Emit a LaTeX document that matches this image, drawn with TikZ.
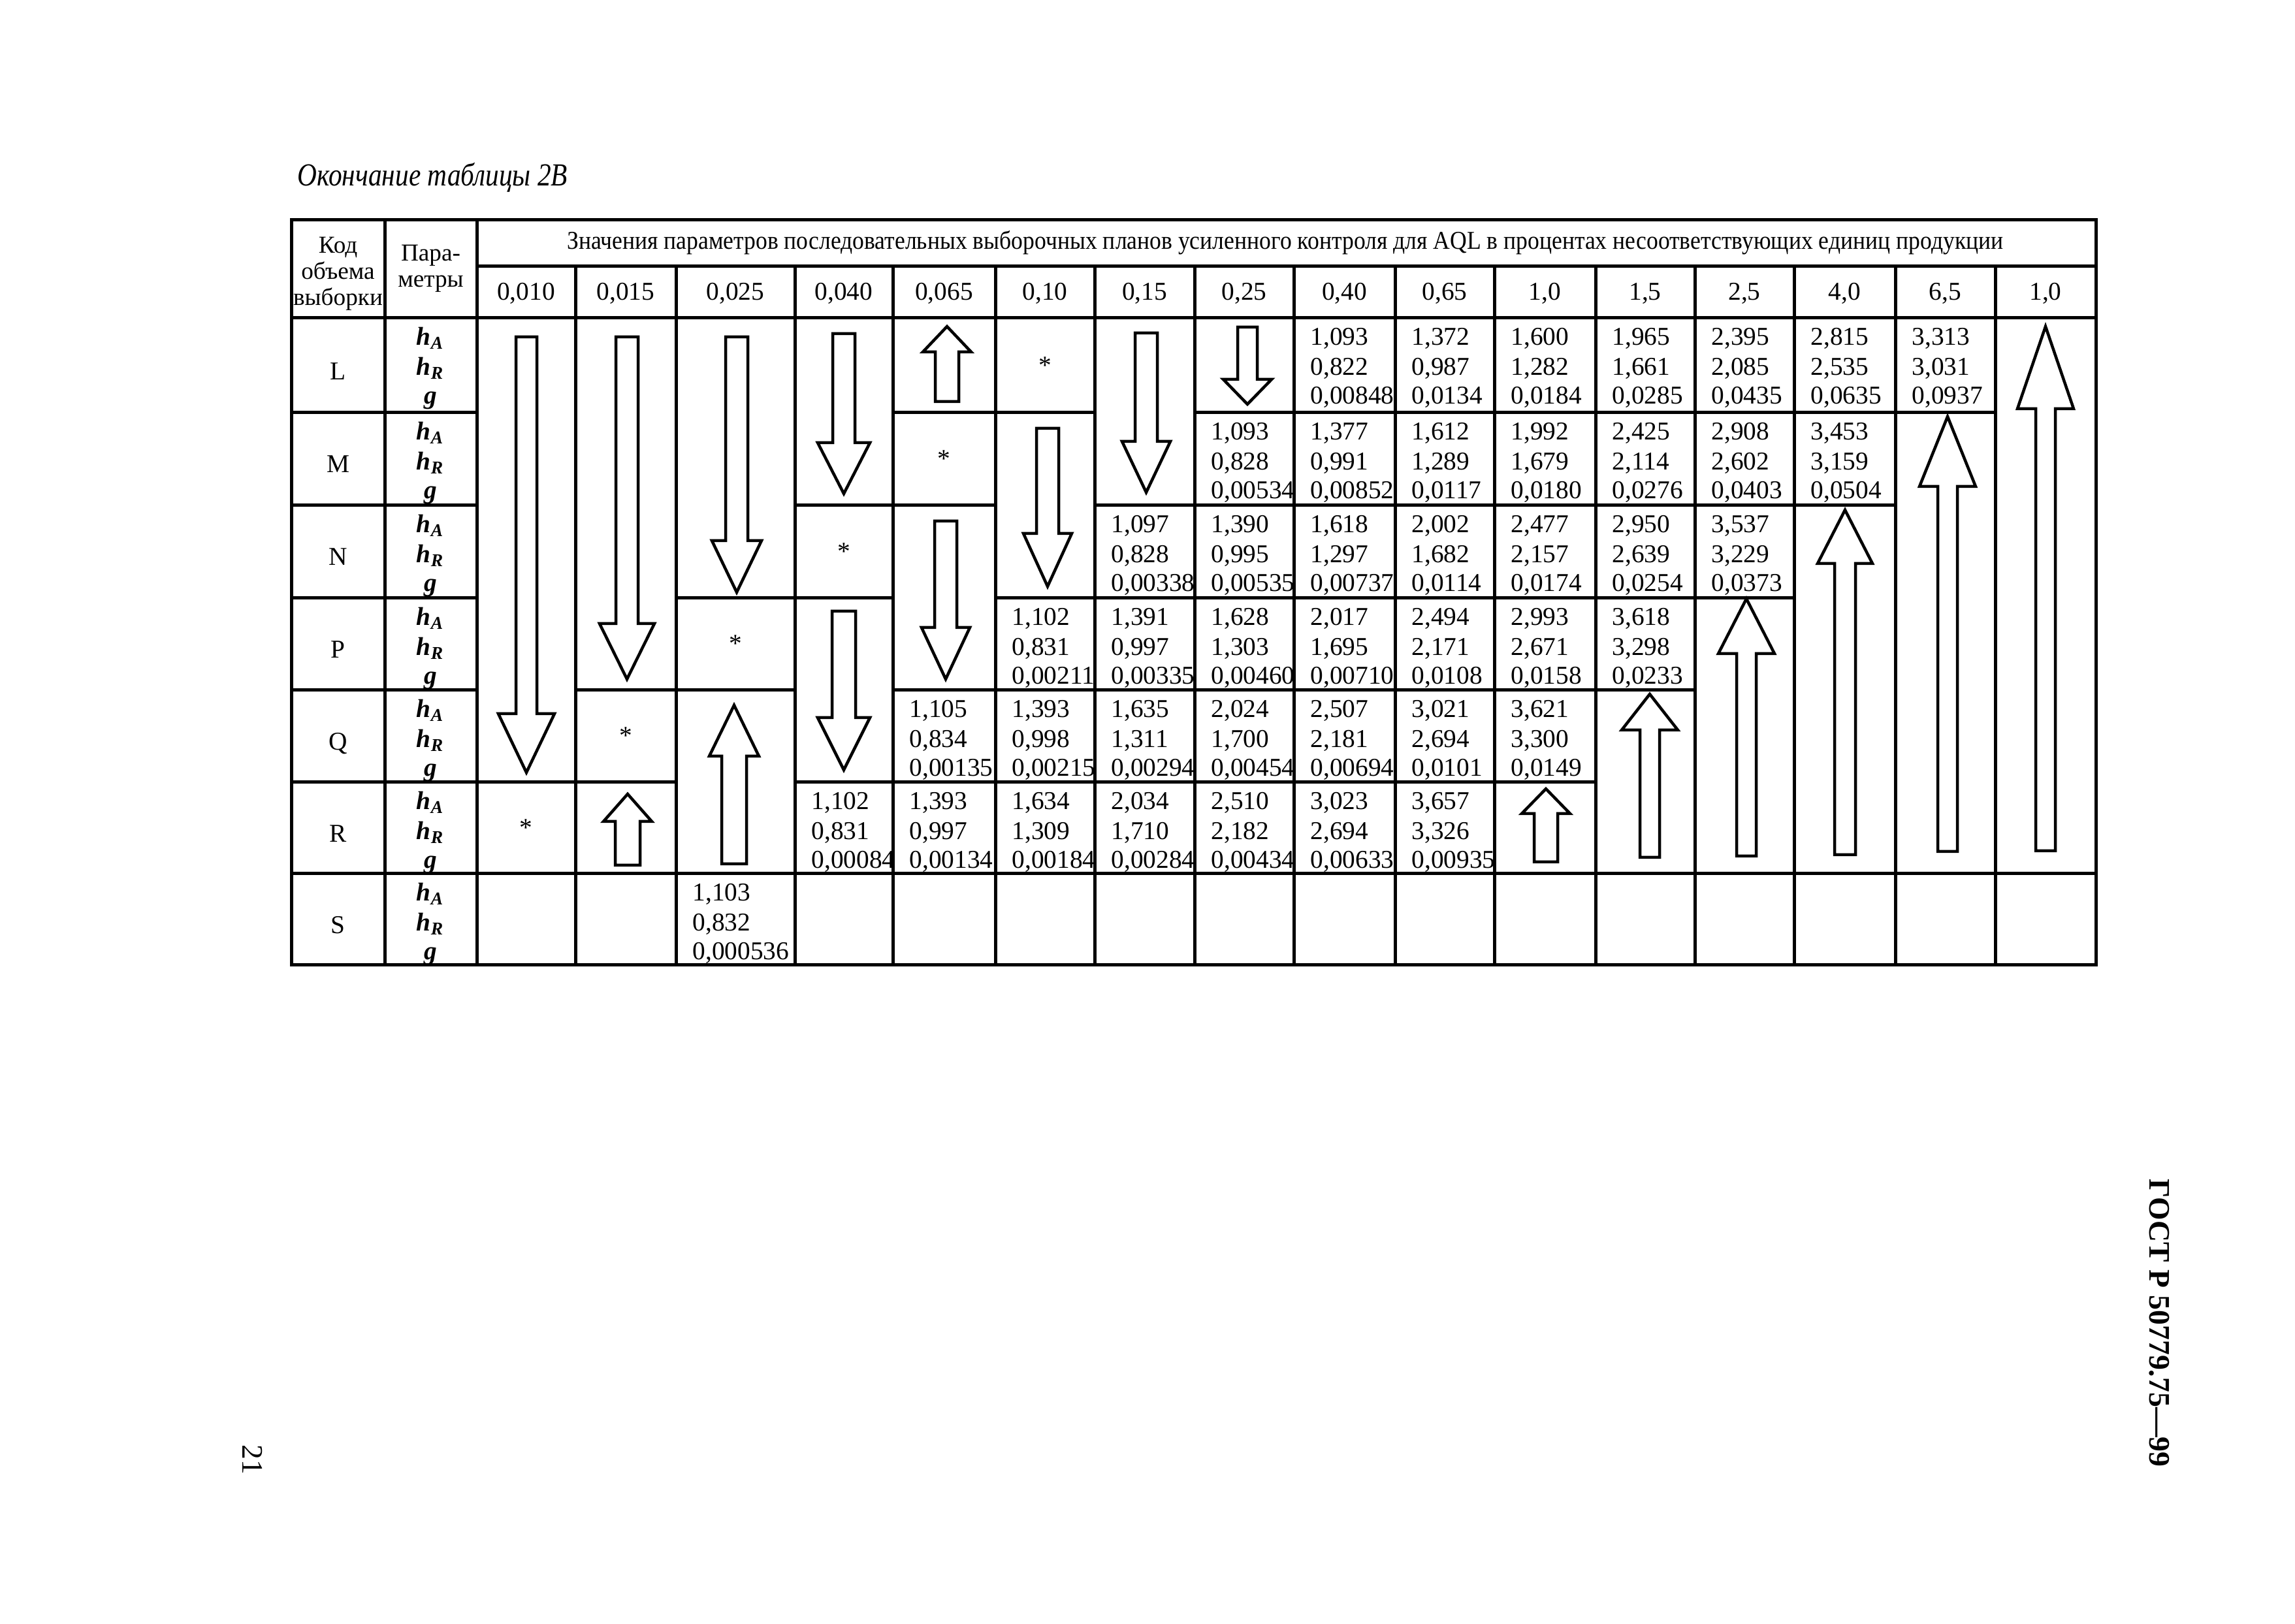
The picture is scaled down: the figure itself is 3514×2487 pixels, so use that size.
\documentclass[tikz,border=0pt]{standalone}
\usepackage{fontspec}
\setmainfont{Liberation Serif}
\newcommand\valfont{\fontsize{11.2pt}{13pt}\selectfont}
\newcommand\hdrfont{\fontsize{10.6pt}{12pt}\selectfont}
\newcommand\vcell[6]{%
  \node[val] (#1a) at (#2+25,#3+42) {#4};
  \node[val] (#1b) at (#2+25,#3+88) {#5};
  \node[val] (#1c) at (#2+25,#3+132) {#6};}
\newcommand\barrow[6]{%
  \draw[arr] (#1-#5,#2) -- (#1+#5,#2) -- (#1+#5,#3) -- (#1+#6,#3) -- (#1,#4) -- (#1-#6,#3) -- (#1-#5,#3) -- cycle;}
\newcommand\prm[2]{%
  \node[prmtext] (#1a) at (659,#2+42) {h\textsubscript{A}};
  \node[prmtext] (#1b) at (659,#2+88) {h\textsubscript{R}};
  \node[prmtext] (#1c) at (659,#2+132) {g};}
\tikzset{
  grid/.style={line width=0.5mm, line cap=rect},
  arr/.style={draw, fill=white, line width=0.45mm, line join=miter},
  val/.style={inner sep=0pt, anchor=base west, font=\valfont},
  prmtext/.style={inner sep=0pt, anchor=base, font=\valfont\bfseries\itshape},
  code/.style={inner sep=0pt, anchor=base, font=\valfont},
  aql/.style={inner sep=0pt, anchor=base, font=\valfont},
  star/.style={inner sep=0pt, anchor=center, font=\valfont},
  htxt/.style={inner sep=0pt, anchor=base, font=\hdrfont}
}
\begin{document}
\begin{tikzpicture}[x=0.1mm,y=-0.1mm]
\useasboundingbox (0,0) rectangle (3514,2487);
\fill[white] (0,0) rectangle (3514,2487);

% title
\node[anchor=base west, inner sep=0pt, font=\itshape\fontsize{14pt}{16pt}\selectfont] (title) at (455,285) {\scalebox{0.84}[1]{Окончание таблицы 2В}};

% grid
\draw[grid] (446,337) rectangle (3209,1478);
\draw[grid] (589,337) -- (589,1478);
\draw[grid] (730,337) -- (730,1478);
\foreach \xx in {881,1035,1217,1367,1524,1676,1829,1981,2136,2288,2443,2595,2747,2902,3055}
  \draw[grid] (\xx,408) -- (\xx,1478);
\draw[grid] (730,408) -- (3209,408);
\draw[grid] (446,487) -- (3209,487);
\foreach \yy in {632,774,916,1057,1198,1338}
  \draw[grid] (446,\yy) -- (730,\yy);
\draw[grid] (1367,632) -- (1676,632);
\draw[grid] (1829,632) -- (3055,632);
\draw[grid] (1217,774) -- (1524,774);
\draw[grid] (1676,774) -- (2902,774);
\draw[grid] (1035,916) -- (1367,916);
\draw[grid] (1524,916) -- (2747,916);
\draw[grid] (881,1057) -- (1217,1057);
\draw[grid] (1367,1057) -- (2595,1057);
\draw[grid] (730,1198) -- (1035,1198);
\draw[grid] (1217,1198) -- (2443,1198);
\draw[grid] (730,1338) -- (3209,1338);

% header texts
\node[htxt] (k1) at (517.5,388) {Код};
\node[htxt] (k2) at (517.5,428) {объема};
\node[htxt] (k3) at (517.5,468) {выборки};
\node[htxt] (p1) at (659.5,400) {Пара-};
\node[htxt] (p2) at (659.5,440) {метры};
\node[aql] (hdr) at (1968,382) {\scalebox{0.905}[1]{Значения параметров последовательных выборочных планов усиленного контроля для AQL в процентах несоответствующих единиц продукции}};
\node[aql] (a0) at (805.5,460) {0,010};
\node[aql] (a1) at (958,460) {0,015};
\node[aql] (a2) at (1126,460) {0,025};
\node[aql] (a3) at (1292,460) {0,040};
\node[aql] (a4) at (1445.5,460) {0,065};
\node[aql] (a5) at (1600,460) {0,10};
\node[aql] (a6) at (1752.5,460) {0,15};
\node[aql] (a7) at (1905,460) {0,25};
\node[aql] (a8) at (2058.5,460) {0,40};
\node[aql] (a9) at (2212,460) {0,65};
\node[aql] (a10) at (2365.5,460) {1,0};
\node[aql] (a11) at (2519,460) {1,5};
\node[aql] (a12) at (2671,460) {2,5};
\node[aql] (a13) at (2824.5,460) {4,0};
\node[aql] (a14) at (2978.5,460) {6,5};
\node[aql] (a15) at (3132,460) {1,0};

% row codes and parameters
\node[code] (rL) at (517.5,582) {L};
\node[code] (rM) at (517.5,724) {M};
\node[code] (rN) at (517.5,866) {N};
\node[code] (rP) at (517.5,1008) {P};
\node[code] (rQ) at (517.5,1149) {Q};
\node[code] (rR) at (517.5,1290) {R};
\node[code] (rS) at (517.5,1430) {S};
\prm{pL}{487}
\prm{pM}{632}
\prm{pN}{774}
\prm{pP}{916}
\prm{pQ}{1057}
\prm{pR}{1198}
\prm{pS}{1338}

% asterisks
\node[star] (s0) at (805.5,1268) {*};
\node[star] (s1) at (958,1127) {*};
\node[star] (s2) at (1126,986) {*};
\node[star] (s3) at (1292,845) {*};
\node[star] (s4) at (1445.5,703) {*};
\node[star] (s5) at (1600,560) {*};

% values
\vcell{c2S}{1035}{1338}{1,103}{0,832}{0,000536}
\vcell{c3R}{1217}{1198}{1,102}{0,831}{0,00084}
\vcell{c4Q}{1367}{1057}{1,105}{0,834}{0,00135}
\vcell{c4R}{1367}{1198}{1,393}{0,997}{0,00134}
\vcell{c5P}{1524}{916}{1,102}{0,831}{0,00211}
\vcell{c5Q}{1524}{1057}{1,393}{0,998}{0,00215}
\vcell{c5R}{1524}{1198}{1,634}{1,309}{0,00184}
\vcell{c6N}{1676}{774}{1,097}{0,828}{0,00338}
\vcell{c6P}{1676}{916}{1,391}{0,997}{0,00335}
\vcell{c6Q}{1676}{1057}{1,635}{1,311}{0,00294}
\vcell{c6R}{1676}{1198}{2,034}{1,710}{0,00284}
\vcell{c7M}{1829}{632}{1,093}{0,828}{0,00534}
\vcell{c7N}{1829}{774}{1,390}{0,995}{0,00535}
\vcell{c7P}{1829}{916}{1,628}{1,303}{0,00460}
\vcell{c7Q}{1829}{1057}{2,024}{1,700}{0,00454}
\vcell{c7R}{1829}{1198}{2,510}{2,182}{0,00434}
\vcell{c8L}{1981}{487}{1,093}{0,822}{0,00848}
\vcell{c8M}{1981}{632}{1,377}{0,991}{0,00852}
\vcell{c8N}{1981}{774}{1,618}{1,297}{0,00737}
\vcell{c8P}{1981}{916}{2,017}{1,695}{0,00710}
\vcell{c8Q}{1981}{1057}{2,507}{2,181}{0,00694}
\vcell{c8R}{1981}{1198}{3,023}{2,694}{0,00633}
\vcell{c9L}{2136}{487}{1,372}{0,987}{0,0134}
\vcell{c9M}{2136}{632}{1,612}{1,289}{0,0117}
\vcell{c9N}{2136}{774}{2,002}{1,682}{0,0114}
\vcell{c9P}{2136}{916}{2,494}{2,171}{0,0108}
\vcell{c9Q}{2136}{1057}{3,021}{2,694}{0,0101}
\vcell{c9R}{2136}{1198}{3,657}{3,326}{0,00935}
\vcell{c10L}{2288}{487}{1,600}{1,282}{0,0184}
\vcell{c10M}{2288}{632}{1,992}{1,679}{0,0180}
\vcell{c10N}{2288}{774}{2,477}{2,157}{0,0174}
\vcell{c10P}{2288}{916}{2,993}{2,671}{0,0158}
\vcell{c10Q}{2288}{1057}{3,621}{3,300}{0,0149}
\vcell{c11L}{2443}{487}{1,965}{1,661}{0,0285}
\vcell{c11M}{2443}{632}{2,425}{2,114}{0,0276}
\vcell{c11N}{2443}{774}{2,950}{2,639}{0,0254}
\vcell{c11P}{2443}{916}{3,618}{3,298}{0,0233}
\vcell{c12L}{2595}{487}{2,395}{2,085}{0,0435}
\vcell{c12M}{2595}{632}{2,908}{2,602}{0,0403}
\vcell{c12N}{2595}{774}{3,537}{3,229}{0,0373}
\vcell{c13L}{2747}{487}{2,815}{2,535}{0,0635}
\vcell{c13M}{2747}{632}{3,453}{3,159}{0,0504}
\vcell{c14L}{2902}{487}{3,313}{3,031}{0,0937}

% arrows: cx, yend, ybase, ytip, shaft half, head half
\barrow{806}{516}{1093}{1183}{16}{43}
\barrow{960}{516}{955}{1040}{17}{42}
\barrow{1128}{516}{828}{907}{17}{38}
\barrow{1292}{511}{678}{756}{17}{40}
\barrow{1292}{936}{1099}{1179}{18}{40}
\barrow{1450}{615}{539}{500}{18}{37}
\barrow{1448}{798}{961}{1040}{17}{37}
\barrow{1604}{656}{817}{898}{17}{37}
\barrow{1755}{510}{676}{754}{17}{37}
\barrow{1910}{501}{581}{619}{15}{37}
\barrow{1124}{1323}{1158}{1080}{19}{38}
\barrow{961}{1325}{1258}{1216}{19}{37}
\barrow{2367}{1320}{1246}{1208}{18}{37}
\barrow{2526}{1313}{1118}{1063}{15}{43}
\barrow{2674}{1311}{1001}{917}{15}{43}
\barrow{2825}{1309}{863}{781}{16}{42}
\barrow{2982}{1304}{745}{638}{15}{43}
\barrow{3132}{1303}{626}{500}{15}{43}

% margins
\node[rotate=-90, inner sep=0pt, font=\bfseries\fontsize{13pt}{15pt}\selectfont] (gost) at (3306,2026) {ГОСТ Р 50779.75—99};
\node[rotate=-90, inner sep=0pt, font=\fontsize{13pt}{15pt}\selectfont] (page) at (387,2235) {21};
\end{tikzpicture}
\end{document}
